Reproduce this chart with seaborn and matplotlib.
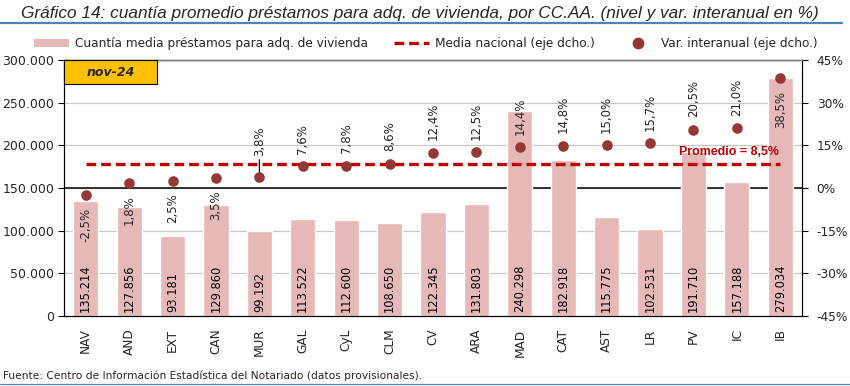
import numpy as np
import seaborn as sns
import matplotlib.pyplot as plt
from matplotlib.patches import Patch, Rectangle
from matplotlib.lines import Line2D
from matplotlib.ticker import FuncFormatter

# Data (nov-24)
regions = ['NAV', 'AND', 'EXT', 'CAN', 'MUR', 'GAL', 'CyL', 'CLM', 'CV',
           'ARA', 'MAD', 'CAT', 'AST', 'LR', 'PV', 'IC', 'IB']
amounts = [135214, 127856, 93181, 129860, 99192, 113522, 112600, 108650,
           122345, 131803, 240298, 182918, 115775, 102531, 191710, 157188, 279034]
yoy_change = [-2.5, 1.8, 2.5, 3.5, 3.8, 7.6, 7.8, 8.6, 12.4, 12.5, 14.4,
              14.8, 15.0, 15.7, 20.5, 21.0, 38.5]
national_mean = 8.5
labels_below = ['NAV', 'AND', 'EXT', 'CAN', 'IB']
labels_leader = ['MUR']

bar_color = '#E6B8B7'
dot_color = '#953735'
mean_color = '#C00000'
mean_dash = (0, (2.9, 1.5))

sns.set_style('white')
plt.rcParams['font.family'] = ['DejaVu Sans']

W, H = 850, 386
fig = plt.figure(figsize=(W / 100, H / 100), dpi=100)
# plot area: x 64..802 px, y 60..316 px
ax = fig.add_axes([64 / W, 1 - 316 / H, 738 / W, 256 / H])

# Bars: loan amount (left axis)
sns.barplot(x=regions, y=amounts, ax=ax, color=bar_color, saturation=1,
            width=0.58, zorder=2)
ax.set_ylim(0, 300000)
ax.set_yticks(np.arange(0, 300001, 50000))
ax.yaxis.set_major_formatter(FuncFormatter(lambda v, p: f'{int(v):,}'.replace(',', '.')))
ax.grid(axis='y', color='#C8C8C8', lw=0.9, zorder=0)
ax.set_axisbelow(True)
ax.axhline(150000, color='black', lw=1.1, zorder=1)
for i, v in enumerate(amounts):
    ax.text(i, 5000, f'{v:,}'.replace(',', '.'), rotation=90, ha='center',
            va='bottom', fontsize=8.3, color='black', zorder=3)

# Dots and mean line (right axis)
ax2 = ax.twinx()
x_pos = np.arange(len(regions))
sns.scatterplot(x=x_pos, y=yoy_change, ax=ax2, color=dot_color, s=58,
                edgecolor=dot_color, linewidth=0, zorder=4, legend=False)
ax2.hlines(national_mean, 0, len(regions) - 1, colors=mean_color, lw=2.4,
           linestyles=mean_dash, zorder=3)
ax2.text(15.97, national_mean + 1.9, 'Promedio = 8,5%', color=mean_color,
         family=['Liberation Sans', 'DejaVu Sans'], fontsize=8.9,
         fontweight='bold', ha='right', va='bottom')
ax2.set_ylim(-45, 45)
ax2.set_yticks(np.arange(-45, 46, 15))
ax2.set_yticklabels([f'{t}%' for t in range(-45, 46, 15)])

for i, (r, v) in enumerate(zip(regions, yoy_change)):
    txt = f'{v:.1f}%'.replace('.', ',')
    if r in labels_below:
        ax2.annotate(txt, (i, v), xytext=(0, -9), textcoords='offset points',
                     rotation=90, ha='center', va='top', fontsize=8.5)
    elif r in labels_leader:
        ax2.annotate(txt, (i, v), xytext=(0, 15), textcoords='offset points',
                     rotation=90, ha='center', va='bottom', fontsize=8.5,
                     arrowprops=dict(arrowstyle='-', color='black', lw=0.8,
                                     shrinkA=0, shrinkB=0))
    else:
        ax2.annotate(txt, (i, v), xytext=(0, 9), textcoords='offset points',
                     rotation=90, ha='center', va='bottom', fontsize=8.5)

ax.set_xlim(-0.5, len(regions) - 0.5)
ax2.set_xlim(-0.5, len(regions) - 0.5)
ax.set_xticks(x_pos)
ax.set_xticklabels(regions, rotation=90, fontsize=8.7)
ax.set_xticks(np.arange(-0.5, len(regions), 1), minor=True)
ax.tick_params(axis='x', which='major', length=0, pad=9)
ax.tick_params(axis='x', which='minor', length=4, color='black', width=0.8)
ax.tick_params(axis='y', length=4, color='black', width=0.8, labelsize=9, pad=3)
ax2.tick_params(axis='y', length=4.5, color='black', width=0.8, labelsize=8.7, pad=6)
ax.set_xlabel('')
ax.set_ylabel('')
ax2.set_ylabel('')

for a in (ax, ax2):
    for side in ('left', 'right', 'bottom'):
        a.spines[side].set_color('black')
        a.spines[side].set_linewidth(0.8)
    a.spines['top'].set_color('#808080')
    a.spines['top'].set_linewidth(1)

# "nov-24" tag
ax2.add_patch(Rectangle((0, 1 - 24 / 256), 93 / 738, 24 / 256,
                        transform=ax2.transAxes, facecolor='#FFC000',
                        edgecolor='black', lw=0.8, zorder=5, clip_on=False))
ax2.text(46.5 / 738, 1 - 12 / 256, 'nov-24', transform=ax2.transAxes,
         ha='center', va='center', fontsize=9, fontweight='bold',
         fontstyle='italic', zorder=6)

# Legend
handles = [Patch(facecolor=bar_color, edgecolor='none'),
           Line2D([], [], color=mean_color, lw=2.4, ls=mean_dash),
           Line2D([], [], marker='o', ls='', color=dot_color, markersize=7.5)]
fig.legend(handles, ['Cuantía media préstamos para adq. de vivienda',
                     'Media nacional (eje dcho.)',
                     'Var. interanual (eje dcho.)'],
           loc='center', bbox_to_anchor=(426 / W, 1 - 44 / H), ncol=3,
           frameon=False, fontsize=8.7, handlelength=2.9, handleheight=0.6,
           columnspacing=2.1, handletextpad=0.5)

# Title, fitted to the width it has in the chart
title = fig.text(21 / W, 1 - 18 / H,
                 'Gráfico 14: cuantía promedio préstamos para adq. de vivienda, '
                 'por CC.AA. (nivel y var. interanual en %)',
                 family=['Liberation Sans', 'DejaVu Sans'], fontstyle='italic',
                 fontsize=12, ha='left', va='baseline')
renderer = fig.canvas.get_renderer()
tw = title.get_window_extent(renderer).width
title.set_fontsize(12 * 797 / tw)
fig.add_artist(Line2D([0, 842 / W], [1 - 23 / H, 1 - 23 / H],
                      transform=fig.transFigure, color='#4F81BD', lw=1.6))

fig.text(3 / W, 1 - 376 / H, 'Fuente: Centro de Información Estadística del Notariado '
         '(datos provisionales).', fontsize=7.7, ha='left', va='center')
fig.add_artist(Line2D([0, 1], [1 - 384 / H, 1 - 384 / H],
                      transform=fig.transFigure, color='#4F81BD', lw=0.9))

fig.savefig('out.png', dpi=100)
